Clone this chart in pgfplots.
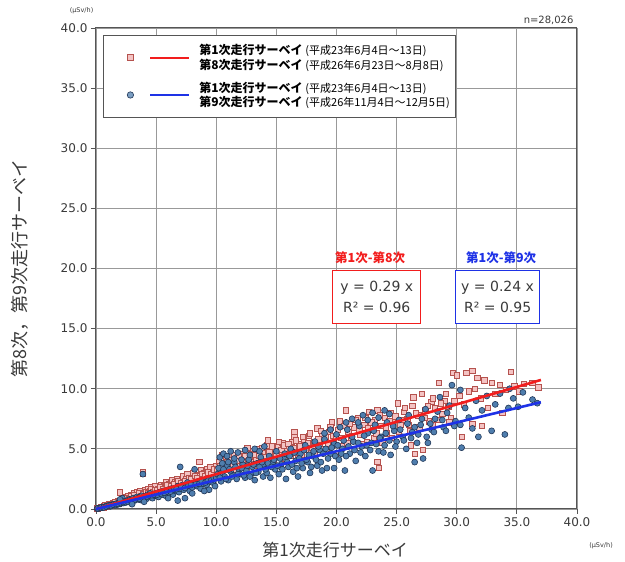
\documentclass[border=0pt]{standalone}
\usepackage{fontspec}
\setmainfont{Noto Sans CJK JP}
\newfontfamily\tickfont{DejaVu Sans}
\usepackage{pgfplots}
\pgfplotsset{compat=1.18}
\definecolor{SqFill}{HTML}{F4C3C3}
\definecolor{SqEdge}{HTML}{B5524E}
\definecolor{CiFill}{HTML}{4F7EAE}
\definecolor{CiEdge}{HTML}{1F3556}
\definecolor{FitRed}{HTML}{F21D1D}
\definecolor{FitBlue}{HTML}{1E32E6}
\definecolor{GridGray}{HTML}{999999}
\definecolor{Frame}{HTML}{555555}
\definecolor{TickTxt}{HTML}{3A3A3A}
\begin{document}
\begin{tikzpicture}
\path[use as bounding box] (-96pt,-53pt) rectangle (529pt,509pt);
\begin{axis}[
  at={(0pt,0pt)},anchor=south west,
  scale only axis,width=481pt,height=481pt,
  xmin=0,xmax=40,ymin=0,ymax=40,
  xtick={0,5,...,40},ytick={0,5,...,40},
  grid=major,grid style={GridGray,line width=0.8pt},
  axis line style={Frame,line width=1pt},
  tick style={Frame,line width=0.8pt},tick align=outside,major tick length=5pt,
  xtick pos=bottom,ytick pos=left,
  /pgf/number format/assume math mode=true,
  /pgf/number format/.cd,fixed,fixed zerofill,precision=1,/tikz/.cd,
  ticklabel style={font=\tickfont\fontsize{12}{14}\selectfont,TickTxt},
  xlabel={第1次走行サーベイ},
  ylabel={第8次，第9次走行サーベイ},
  xlabel style={font=\fontsize{17}{19}\selectfont,TickTxt,at={(axis description cs:0.497,-0.085)},anchor=center},
  ylabel style={font=\fontsize{18}{20}\selectfont,TickTxt,at={(axis description cs:-0.158,0.5)},anchor=center},
  legend style={at={(rel axis cs:0.0146,0.9854)},anchor=north west,draw=Frame,line width=0.8pt,fill=white,
    inner xsep=4pt,inner ysep=7pt,row sep=7pt,
    font=\fontsize{12}{14.5}\selectfont,cells={align=left,anchor=west}},
  clip marker paths=true,
  clip=false,
]
% 第1次-第8次 (red squares)
\addplot[only marks,mark=square*,mark size=2.7pt,mark options={draw=SqEdge,fill=SqFill,line width=0.7pt},
  legend image code/.code={
    \path[draw=none,fill=none] (0pt,0pt) -- (90pt,0pt);
    \draw[draw=SqEdge,fill=SqFill,line width=0.7pt] (20pt,-3pt) rectangle (26pt,3pt);
    \draw[FitRed,line width=2pt] (43pt,0pt) -- (82pt,0pt);}]
coordinates {
(0.1,0.05)(0.2,0.08)(0.3,0.1)(0.4,0.15)(0.5,0.2)(0.6,0.12)(0.7,0.25)(0.8,0.3)(0.9,0.22)(1.0,0.35)
(1.1,0.4)(1.2,0.28)(1.3,0.45)(1.4,0.5)(1.5,0.38)(1.6,0.6)(1.7,0.55)(1.8,0.7)(1.9,0.48)(2.0,1.4)
(2.1,0.75)(2.2,0.6)(2.3,0.9)(2.4,0.8)(2.5,1.0)(2.6,0.7)(2.7,1.1)(2.8,0.9)(2.9,1.2)(3.0,1.0)
(3.1,0.85)(3.2,1.3)(3.3,1.1)(3.4,1.4)(3.5,1.0)(3.6,1.2)(3.7,1.5)(3.8,1.3)(3.9,3.1)(3.9,2.9)
(4.0,1.2)(4.1,1.6)(4.2,1.4)(4.3,1.7)(4.4,1.1)(4.5,1.5)(4.6,1.8)(4.7,1.3)(4.8,1.6)(4.9,1.9)(5.0,1.4)
(0.15,0.1)(0.35,0.12)(0.55,0.18)(0.75,0.3)(0.95,0.32)(1.15,0.42)(1.35,0.35)(1.55,0.55)(1.75,0.45)(1.95,0.62)
(2.15,0.85)(2.35,0.7)(2.55,0.95)(2.75,0.8)(2.95,1.05)(3.15,1.2)(3.35,0.95)(3.55,1.35)(3.75,1.1)(3.95,1.25)
(4.15,1.45)(4.35,1.3)(4.55,1.65)(4.75,1.45)(4.95,1.6)
(5.2,1.7)(5.4,2.0)(5.5,1.5)(5.7,1.9)(5.8,2.2)(6.0,1.8)(6.1,2.1)(6.3,2.4)(6.4,1.7)(6.6,2.2)
(6.7,2.5)(6.9,2.0)(7.0,2.3)(7.2,2.7)(7.3,2.1)(7.5,2.5)(7.6,2.9)(7.8,2.3)(8.0,2.6)(8.1,3.0)
(8.3,2.4)(8.5,2.8)(8.6,3.9)(8.7,3.2)(8.9,2.6)(9.0,3.0)(9.2,3.3)(9.4,2.7)(9.5,3.5)(9.7,3.1)(9.9,2.8)(10.0,3.6)
(5.1,1.55)(5.3,1.85)(5.6,1.65)(5.9,2.0)(6.2,1.9)(6.5,2.05)(6.8,2.35)(7.1,2.15)(7.4,2.35)(7.7,2.6)
(7.9,2.45)(8.2,2.75)(8.4,2.55)(8.8,2.9)(9.1,2.75)(9.3,3.05)(9.6,2.9)(9.8,3.3)
(10.2,3.9)(10.4,3.2)(10.5,4.5)(10.6,3.6)(10.8,4.2)(11.0,3.4)(11.1,4.4)(11.3,3.8)(11.5,4.5)(11.6,3.3)
(11.8,4.3)(12.0,3.7)(12.1,4.6)(12.3,4.1)(12.5,3.5)(12.6,5.1)(12.8,4.3)(13.0,3.9)(13.1,4.8)(13.3,4.2)
(13.5,5.0)(13.7,3.8)(13.9,4.7)(14.0,4.3)(14.2,5.3)(14.3,5.7)(14.5,4.1)(14.7,4.9)(14.9,4.4)
(10.1,3.2)(10.3,3.6)(10.7,3.3)(10.9,3.9)(11.2,4.1)(11.4,3.6)(11.7,4.0)(11.9,4.4)(12.2,3.9)(12.4,4.4)
(12.7,3.9)(12.9,4.6)(13.2,4.5)(13.4,3.6)(13.6,4.4)(13.8,5.1)(14.1,4.0)(14.4,4.7)(14.6,5.2)(14.8,3.8)
(15.1,5.2)(15.3,4.6)(15.5,5.5)(15.7,4.2)(15.9,5.0)(16.1,4.7)(16.3,5.6)(16.5,6.4)(16.5,6.0)(16.7,4.9)
(16.9,5.4)(17.1,4.5)(17.3,5.8)(17.5,5.1)(17.7,6.1)(17.9,4.8)(18.1,5.6)(18.4,6.7)(18.6,5.3)(18.8,6.2)
(19.0,5.7)(19.2,4.9)(19.4,6.4)(19.6,7.2)(19.8,5.5)
(15.0,4.5)(15.2,5.6)(15.4,4.9)(15.6,5.3)(15.8,4.6)(16.0,5.4)(16.2,4.4)(16.4,5.1)(16.6,5.7)(16.8,4.2)
(17.0,5.2)(17.2,6.0)(17.4,4.9)(17.6,5.5)(17.8,6.3)(18.0,5.1)(18.2,4.6)(18.5,5.8)(18.7,6.5)(18.9,5.0)
(19.1,6.0)(19.3,5.4)(19.5,6.8)(19.7,6.1)(19.9,4.6)
(20.0,6.0)(20.3,7.3)(20.5,5.2)(20.8,8.2)(21.0,6.4)(21.2,5.8)(21.5,6.8)(21.8,7.6)(22.0,6.2)(22.3,7.0)
(22.5,5.6)(22.7,8.1)(23.0,6.6)(23.2,7.4)(23.4,8.2)(23.4,3.9)(23.5,3.4)(23.7,6.9)(24.0,7.6)(24.2,6.3)
(24.5,8.0)(24.7,7.2)(25.1,8.8)
(20.1,6.6)(20.4,5.9)(20.6,6.9)(20.9,5.5)(21.1,7.1)(21.3,6.1)(21.6,7.4)(21.9,6.6)(22.1,5.4)(22.4,7.6)
(22.6,6.7)(22.9,7.2)(23.1,5.9)(23.3,6.3)(23.6,7.8)(23.8,5.5)(24.1,6.8)(24.4,7.3)(24.6,5.9)(24.9,7.7)
(25.3,7.0)(25.6,8.1)(25.9,7.5)(26.1,6.5)(26.3,8.6)(26.4,9.3)(26.5,4.6)(26.8,7.8)(27.1,9.6)(27.2,4.9)
(27.4,8.2)(27.7,7.3)(27.9,8.9)(28.0,7.0)(28.2,8.4)(28.5,10.5)(28.8,7.9)(29.0,9.0)(29.3,8.5)(29.5,7.6)
(29.7,11.3)(30.0,11.1)
(25.2,6.4)(25.5,7.4)(25.7,8.4)(26.0,7.0)(26.2,5.3)(26.6,8.0)(26.9,6.8)(27.3,7.6)(27.6,8.6)(28.0,9.2)
(28.4,7.4)(28.7,8.8)(29.1,9.6)(29.4,7.2)(29.8,9.0)
(30.2,9.4)(30.4,6.0)(30.6,8.7)(30.8,11.3)(31.0,9.8)(31.3,11.5)(31.3,7.1)(31.5,10.0)(31.7,10.9)(32.0,9.2)
(32.1,6.9)(32.3,10.7)(32.6,8.4)(32.9,10.5)(33.2,9.6)(33.6,10.3)(33.8,8.0)(34.1,9.9)(34.5,11.4)(34.8,10.2)
(35.2,9.8)(35.6,10.4)(36.3,10.5)(36.8,10.1)
};
\addlegendentry{\bfseries 第1次走行サーベイ {\mdseries\fontsize{11}{14.5}\selectfont (平成23年6月4日～13日)}\\\bfseries 第8次走行サーベイ {\mdseries\fontsize{11}{14.5}\selectfont (平成26年6月23日～8月8日)}}
% 第1次-第9次 (blue circles)
\addplot[only marks,mark=*,mark size=3pt,mark options={draw=CiEdge,fill=CiFill,line width=0.6pt},
  legend image code/.code={
    \path[draw=none,fill=none] (0pt,0pt) -- (90pt,0pt);
    \draw[draw=CiEdge,fill=CiFill!75!white,line width=0.6pt] (23pt,0pt) circle (3.2pt);
    \draw[FitBlue,line width=2pt] (43pt,0pt) -- (82pt,0pt);}]
coordinates {
(0.1,0.03)(0.2,0.05)(0.3,0.08)(0.4,0.1)(0.5,0.12)(0.6,0.15)(0.7,0.18)(0.8,0.2)(0.9,0.22)(1.0,0.25)
(1.1,0.3)(1.2,0.22)(1.3,0.35)(1.4,0.3)(1.5,0.4)(1.6,0.32)(1.7,0.45)(1.8,0.38)(1.9,0.5)(2.0,0.42)
(2.1,0.55)(2.2,0.9)(2.3,0.5)(2.4,0.65)(2.5,0.55)(2.6,0.7)(2.7,0.6)(2.8,0.8)(2.9,0.65)(3.0,0.75)
(3.1,0.9)(3.2,0.7)(3.3,0.85)(3.4,1.0)(3.5,0.8)(3.6,0.95)(3.7,0.75)(3.8,1.1)(3.9,2.9)(4.0,0.9)
(4.1,1.05)(4.2,0.85)(4.3,1.2)(4.4,1.0)(4.5,1.3)(4.6,1.05)(4.7,0.9)(4.8,1.25)(4.9,1.1)(5.0,1.3)
(0.15,0.05)(0.35,0.09)(0.45,0.13)(0.65,0.14)(0.85,0.21)(1.05,0.27)(1.25,0.3)(1.45,0.36)(1.65,0.42)(1.85,0.43)
(2.05,0.5)(2.25,0.58)(2.45,0.58)(2.65,0.63)(2.85,0.72)(3.05,0.7)(3.25,0.8)(3.45,0.88)(3.65,0.85)(3.85,0.95)
(4.05,1.0)(4.25,1.05)(4.45,1.12)(4.65,1.15)(4.85,1.2)(3.0,0.4)(4.0,0.6)(2.0,0.8)
(5.2,1.0)(5.3,1.4)(5.5,1.2)(5.6,1.5)(5.8,1.1)(6.0,1.6)(6.1,1.3)(6.3,1.7)(6.4,1.2)(6.6,1.5)
(6.8,1.9)(6.8,0.7)(6.9,1.4)(7.0,1.7)(7.0,3.5)(7.2,2.0)(7.3,1.6)(7.4,0.9)(7.5,1.9)(7.6,2.2)(7.8,1.5)
(8.0,1.8)(8.1,2.1)(8.2,3.3)(8.4,1.9)(8.5,2.3)(8.7,1.7)(8.9,2.1)(9.0,2.4)(9.2,2.0)(9.4,1.6)
(9.5,2.5)(9.7,2.2)(9.9,1.9)
(5.1,1.2)(5.4,1.3)(5.7,1.35)(5.9,1.45)(6.2,1.45)(6.5,1.6)(6.7,1.65)(7.1,1.85)(7.4,1.75)(7.7,1.95)
(7.9,2.0)(8.3,2.05)(8.6,2.1)(8.8,2.3)(9.1,2.2)(9.3,2.35)(9.6,2.4)(9.8,2.6)(8.0,1.3)(9.0,1.5)(6.0,0.9)
(10.0,2.6)(10.2,3.4)(10.4,2.3)(10.5,3.0)(10.7,2.7)(10.9,3.6)(11.0,2.4)(11.2,3.1)(11.4,2.8)(11.5,3.9)
(11.7,2.5)(11.9,3.3)(12.0,2.9)(12.2,3.7)(12.4,2.6)(12.5,3.2)(12.7,4.1)(12.9,2.9)(13.0,3.5)(13.2,2.4)
(13.4,3.8)(13.5,3.1)(13.7,4.3)(13.9,2.7)(14.0,3.6)(14.2,3.0)(14.4,4.4)(14.5,2.6)(14.7,3.9)(14.9,3.3)
(10.1,2.9)(10.3,2.6)(10.6,3.3)(10.8,2.5)(11.1,3.3)(11.3,2.7)(11.6,3.5)(11.8,2.9)(12.1,3.4)(12.3,2.8)
(12.6,3.6)(12.8,2.7)(13.1,3.7)(13.3,3.0)(13.6,3.5)(13.8,3.9)(14.1,3.3)(14.3,3.8)(14.6,3.5)(14.8,4.1)
(10.3,4.3)(10.6,4.6)(10.9,4.4)(11.2,4.8)(11.5,4.2)(11.8,4.7)(12.1,4.1)(12.4,4.9)(12.8,4.5)(13.2,5.0)
(13.6,4.8)(14.0,5.2)(10.5,3.8)(11.0,3.9)
(15.0,4.8)(15.2,2.9)(15.4,3.7)(15.6,4.3)(15.8,2.5)(16.0,3.5)(16.2,5.0)(16.4,3.1)(16.6,4.0)(16.8,2.7)
(17.0,4.6)(17.2,3.4)(17.4,5.3)(17.6,3.9)(17.8,3.0)(18.0,4.4)(18.2,5.6)(18.4,3.6)(18.6,4.9)(18.8,3.2)
(19.0,5.8)(19.2,3.4)(19.5,4.6)(19.8,3.4)(19.8,5.4)
(15.1,3.6)(15.3,4.2)(15.5,3.3)(15.7,4.6)(15.9,3.9)(16.1,4.4)(16.3,3.7)(16.5,4.7)(16.7,3.4)(16.9,4.2)
(17.1,3.8)(17.3,4.9)(17.5,4.1)(17.7,4.5)(17.9,3.5)(18.1,4.8)(18.3,4.1)(18.5,5.2)(18.7,3.9)(18.9,4.6)
(19.1,5.0)(19.3,4.2)(19.6,5.1)(19.9,4.4)(19.0,6.3)(19.5,6.6)
(20.0,6.2)(20.2,4.1)(20.5,5.0)(20.7,3.2)(20.9,6.6)(21.1,4.6)(21.4,5.6)(21.6,4.0)(21.9,6.9)(22.1,5.2)
(22.4,4.4)(22.6,6.3)(22.9,5.5)(23.0,3.2)(23.2,7.0)(23.5,4.8)(23.7,6.0)(24.0,5.3)(24.2,7.2)(24.5,4.5)
(24.8,6.5)(25.0,5.6)
(20.1,5.3)(20.4,4.6)(20.6,5.7)(20.8,4.4)(21.0,5.2)(21.3,6.0)(21.5,4.9)(21.8,5.5)(22.0,4.7)(22.3,6.1)
(22.5,5.3)(22.8,4.9)(23.1,6.5)(23.3,5.4)(23.6,5.9)(23.9,4.7)(24.1,6.3)(24.4,5.7)(24.7,6.9)(24.9,5.2)
(20.3,6.8)(20.8,7.2)(21.3,7.5)(21.8,7.2)(22.2,7.8)(22.6,7.4)(23.0,8.0)(23.5,7.6)(24.0,8.2)(24.4,7.9)
(25.2,7.4)(25.5,6.0)(25.8,5.0)(26.0,7.8)(26.3,6.4)(26.5,3.9)(26.7,5.5)(27.0,7.0)(27.2,4.2)(27.4,8.3)
(27.6,5.5)(27.9,6.6)(28.2,7.5)(28.6,9.3)(28.9,6.8)(29.2,8.0)(29.6,10.3)(29.9,7.3)
(25.3,6.6)(25.6,5.7)(25.9,7.1)(26.2,5.9)(26.5,6.8)(26.8,6.2)(27.1,7.5)(27.5,6.0)(27.8,7.1)(28.1,6.4)
(28.4,8.1)(28.8,7.4)(29.1,6.5)(29.4,8.6)(29.8,6.9)
(30.3,9.9)(30.3,7.0)(30.4,5.1)(30.7,8.4)(31.0,7.6)(31.3,6.7)(31.6,9.0)(31.8,6.0)(32.1,8.2)(32.5,9.4)
(32.9,6.5)(33.2,8.7)(33.6,9.6)(34.0,6.2)(34.3,8.4)(34.4,10.0)(34.7,9.2)(35.1,8.5)(35.5,9.7)(36.3,9.1)(36.7,8.8)
};
\addlegendentry{\bfseries 第1次走行サーベイ {\mdseries\fontsize{11}{14.5}\selectfont (平成23年6月4日～13日)}\\\bfseries 第9次走行サーベイ {\mdseries\fontsize{11}{14.5}\selectfont (平成26年11月4日～12月5日)}}
% fitted lines
\addplot[forget plot,FitRed,line width=2.6pt] coordinates {(0,0)(37,10.73)};
\addplot[forget plot,FitBlue,line width=2.6pt] coordinates {(0,0)(37,8.88)};
% annotations
\node[font=\bfseries\fontsize{12.5}{14}\selectfont,text=FitRed] at (axis cs:22.8,20.86) {第1次-第8次};
\node[font=\bfseries\fontsize{12.5}{14}\selectfont,text=FitBlue] at (axis cs:33.7,20.86) {第1次-第9次};
\node[draw=FitRed,line width=1pt,fill=white,align=center,minimum width=88pt,minimum height=53pt,
  font=\tickfont\fontsize{14}{21}\selectfont,text=TickTxt] at (axis cs:23.35,17.67) {y = 0.29 x\\R² = 0.96};
\node[draw=FitBlue,line width=1pt,fill=white,align=center,minimum width=84pt,minimum height=53pt,
  font=\tickfont\fontsize{14}{21}\selectfont,text=TickTxt] at (axis cs:33.4,17.67) {y = 0.24 x\\R² = 0.95};
\node[font=\tickfont\fontsize{10}{12}\selectfont,text=TickTxt,anchor=south east] at (rel axis cs:1,1) {n=28,026};
\node[font=\tickfont\fontsize{6.5}{8}\selectfont,text=TickTxt] at (axis description cs:-0.03,1.035) {(μSv/h)};
\node[font=\tickfont\fontsize{6.5}{8}\selectfont,text=TickTxt] at (axis description cs:1.05,-0.077) {(μSv/h)};
\end{axis}
\end{tikzpicture}
\end{document}
